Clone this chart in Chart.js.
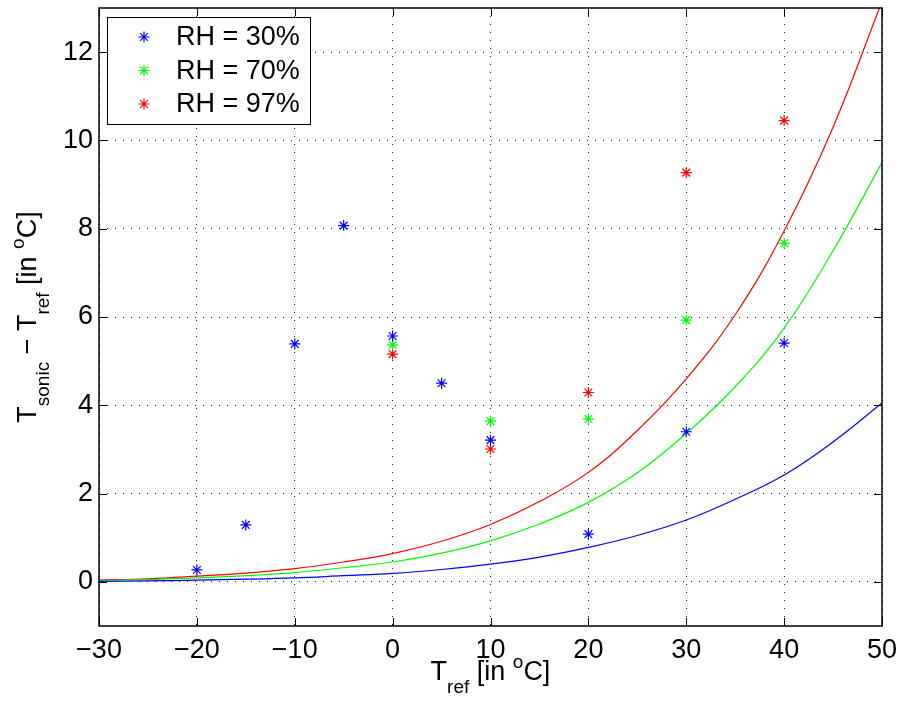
<!DOCTYPE html>
<html>
<head>
<meta charset="utf-8">
<script src="https://cdn.jsdelivr.net/npm/chart.js@4.4.1/dist/chart.umd.min.js"></script>
<style>
body{margin:0;background:#fff;}
</style>
</head>
<body>
<canvas id="chart" width="902" height="701"></canvas>
<script>
// DATA
const xTicks = [-30,-20,-10,0,10,20,30,40,50];
const yTicks = [0,2,4,6,8,10,12];

const labels = ["RH = 30%","RH = 70%","RH = 97%"];
const colors = ["#0000ff","#00ff00","#ff0000"];

// measured points
const rh30X = [-20,-15,-10,-5,0,5,10,20,30,40];
const rh30Y = [0.27,1.29,5.39,8.07,5.57,4.50,3.21,1.08,3.40,5.41];
const rh70X = [0,10,20,30,40];
const rh70Y = [5.37,3.64,3.69,5.93,7.67];
const rh97X = [0,10,20,30,40];
const rh97Y = [5.16,3.01,4.29,9.27,10.45];

// model curves (read every 5 degrees)
const curveX = [-30,-25,-20,-15,-10,-5,0,5,10,15,20,25,30,35,40,45,50];
const curve30 = [0.01,0.02,0.04,0.06,0.09,0.14,0.19,0.28,0.40,0.56,0.78,1.05,1.40,1.87,2.42,3.17,4.05];
const curve70 = [0.03,0.05,0.09,0.14,0.21,0.32,0.45,0.65,0.93,1.31,1.80,2.47,3.36,4.42,5.75,7.50,9.50];
const curve97 = [0.04,0.07,0.13,0.20,0.30,0.45,0.64,0.92,1.30,1.82,2.48,3.43,4.60,6.05,7.95,10.30,13.15];

const FONT = '"Liberation Sans", Arial, Helvetica, sans-serif';

function pts(xs, ys){
return xs.map((x,i)=>({x:x,y:ys[i]}));
}

function stars(i, xs, ys){
return {
label:labels[i],
data:pts(xs,ys),
showLine:false,
pointStyle:"star",
pointRadius:5.5,
pointBorderWidth:1.2,
borderColor:colors[i],
backgroundColor:colors[i]
};
}

function curve(i, ys){
return {
label:"",
data:pts(curveX,ys),
showLine:true,
pointRadius:0,
borderWidth:1.2,
borderColor:colors[i],
tension:0.4
};
}

function fmt(v){
return v < 0 ? "\u2212" + Math.abs(v) : String(v);
}

// TEXT WITH SUB/SUPERSCRIPT
function drawRich(ctx, parts, x, y){
let w = 0;
parts.forEach(p=>{
ctx.font = (p[1] ? "19px " : "27px ") + FONT;
w += ctx.measureText(p[0]).width;
});
let cx = x - w/2;
ctx.textAlign = "left";
ctx.textBaseline = "alphabetic";
parts.forEach(p=>{
ctx.font = (p[1] ? "19px " : "27px ") + FONT;
let dy = p[1]=="sub" ? 13 : (p[1]=="sup" ? -12 : 0);
ctx.fillText(p[0], cx, y + dy);
cx += ctx.measureText(p[0]).width;
});
}

function drawStar(ctx, x, y, r){
ctx.beginPath();
ctx.moveTo(x-r,y); ctx.lineTo(x+r,y);
ctx.moveTo(x,y-r); ctx.lineTo(x,y+r);
let d = r*Math.SQRT1_2;
ctx.moveTo(x-d,y-d); ctx.lineTo(x+d,y+d);
ctx.moveTo(x-d,y+d); ctx.lineTo(x+d,y-d);
ctx.stroke();
}

// no extra room for half tick labels
function noPad(s){
s.paddingLeft = 0;
s.paddingRight = 0;
s.paddingTop = 0;
s.paddingBottom = 0;
}

// FRAME, INNER TICKS, TITLES, LEGEND
const frame = {
id:"frame",
afterDraw(chart){
const ctx = chart.ctx;
const a = chart.chartArea;
const sx = chart.scales.x;
const sy = chart.scales.y;
ctx.save();
ctx.strokeStyle = "#000";
ctx.lineWidth = 1;
ctx.beginPath();
xTicks.forEach(v=>{
let px = Math.round(sx.getPixelForValue(v)) + 0.5;
ctx.moveTo(px, a.bottom); ctx.lineTo(px, a.bottom-8);
ctx.moveTo(px, a.top); ctx.lineTo(px, a.top+8);
});
yTicks.forEach(v=>{
let py = Math.round(sy.getPixelForValue(v)) + 0.5;
ctx.moveTo(a.left, py); ctx.lineTo(a.left+8, py);
ctx.moveTo(a.right, py); ctx.lineTo(a.right-8, py);
});
ctx.stroke();
ctx.lineWidth = 1.5;
ctx.strokeRect(a.left, a.top, a.right-a.left, a.bottom-a.top);

// axis titles
ctx.fillStyle = "#000";
drawRich(ctx, [["T",""],["ref","sub"],[" [in ",""],["o","sup"],["C]",""]], (a.left+a.right)/2, 680);
ctx.save();
ctx.translate(36, (a.top+a.bottom)/2);
ctx.rotate(-Math.PI/2);
drawRich(ctx, [["T",""],["sonic","sub"],[" \u2212 T",""],["ref","sub"],[" [in ",""],["o","sup"],["C]",""]], 0, 0);
ctx.restore();

// legend
ctx.fillStyle = "#fff";
ctx.fillRect(107, 17, 203, 107);
ctx.lineWidth = 1;
ctx.strokeStyle = "#000";
ctx.strokeRect(107.5, 17.5, 203, 107);
ctx.font = "27px " + FONT;
ctx.textAlign = "left";
ctx.textBaseline = "middle";
ctx.lineWidth = 1.2;
labels.forEach((t,i)=>{
let yy = 37 + i*33.5;
ctx.strokeStyle = colors[i];
drawStar(ctx, 144, yy, 5.5);
ctx.fillStyle = "#000";
ctx.fillText(t, 176, yy+1);
});
ctx.restore();
}
};

new Chart(document.getElementById("chart"),{
type:"scatter",
data:{
datasets:[
stars(0, rh30X, rh30Y),
stars(1, rh70X, rh70Y),
stars(2, rh97X, rh97Y),
curve(0, curve30),
curve(1, curve70),
curve(2, curve97)
]
},
options:{
responsive:false,
animation:false,
events:[],
layout:{padding:{top:8,right:20,left:0,bottom:0}},
plugins:{legend:{display:false},tooltip:{enabled:false}},
scales:{
x:{
type:"linear",
min:-30,
max:50,
afterBuildTicks:s=>{ s.ticks = xTicks.map(v=>({value:v})); },
afterFit:s=>{ s.height = 75; noPad(s); },
grid:{color:"#222",lineWidth:1,drawTicks:false},
border:{display:false,dash:[1,7]},
ticks:{color:"#000",padding:8,font:{family:FONT,size:27},callback:fmt,maxRotation:0,autoSkip:false}
},
y:{
type:"linear",
min:-1,
max:13,
afterBuildTicks:s=>{ s.ticks = yTicks.map(v=>({value:v})); },
afterFit:s=>{ s.width = 99; noPad(s); },
grid:{color:"#222",lineWidth:1,drawTicks:false},
border:{display:false,dash:[1,7]},
ticks:{color:"#000",padding:6,font:{family:FONT,size:27},callback:fmt,autoSkip:false}
}
}
},
plugins:[frame]
});
</script>
</body>
</html>
